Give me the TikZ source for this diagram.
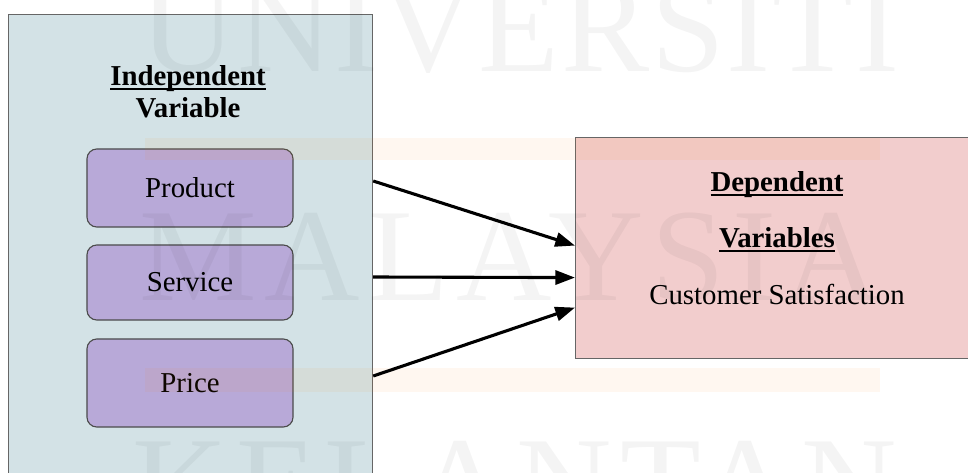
\documentclass[tikz,border=0pt]{standalone}
\usepackage{fontspec}
\setmainfont{Liberation Serif}
\usetikzlibrary{arrows.meta,calc}
\newcommand\thickul[1]{\setbox0\hbox{#1}\rlap{\rule[-3.2pt]{\wd0}{1.5pt}}\box0}
\definecolor{lblue}{HTML}{D3E2E6}
\definecolor{lpurple}{HTML}{B8A9D8}
\definecolor{lpink}{HTML}{F2CDCD}
\tikzset{
  x=0.025cm, y=-0.025cm,
  panel/.style={draw=black!60, line width=0.8pt, inner sep=0pt, anchor=north west},
  varbox/.style={draw=black!70, line width=0.8pt, fill=lpurple, rounded corners=7pt,
     minimum width=5.15cm, inner sep=0pt, font=\fontsize{20.5}{24}\selectfont},
  label/.style={font=\fontsize{20.5}{22.8}\selectfont, align=center, inner sep=0pt},
  wmark/.style={font=\fontsize{94}{94}\selectfont\addfontfeature{LetterSpace=6}, text=black, text opacity=0.045, anchor=base, inner sep=0pt},
  band/.style={fill=orange, fill opacity=0.06, draw=none},
  arr/.style={line width=2.2pt, -{Triangle[length=14pt,width=10pt]}}
}
\begin{document}
\begin{tikzpicture}
\useasboundingbox (0,0) rectangle (968,473);
\clip (0,0) rectangle (968,473);
\fill[white] (0,0) rectangle (968,473);
% panels
\node[panel, fill=lblue, minimum width=9.1cm, minimum height=11.75cm] (lbox) at (8,14) {};
\node[panel, fill=lpink, minimum width=10.5cm, minimum height=5.525cm] (dep) at (575,137) {};
% variable boxes
\node[varbox, minimum height=1.95cm] (product) at (190,188) {Product};
\node[varbox, minimum height=1.875cm] (service) at (190,282.5) {Service};
\node[varbox, minimum height=2.2cm] (price) at (190,383) {Price};
% watermark
\fill[band] (145,138) rectangle (880,160);
\fill[band] (145,368) rectangle (880,392);
\node[wmark, font=\fontsize{94}{94}\selectfont\addfontfeature{LetterSpace=1.5}] (wm1) at (520,72) {UNIVERSITI};
\node[wmark] (wm2) at (510,300) {MALAYSIA};
\node[wmark] (wm3) at (515,528) {KELANTAN};
% titles
\node[label, font=\fontsize{20.5}{22.8}\selectfont\bfseries] (indep) at (188,92) {\thickul{Independent}\\Variable};
\node[label, font=\fontsize{20.5}{40}\selectfont] (deptext) at (777,238)
   {\textbf{\thickul{Dependent}}\\ \textbf{\thickul{Variables}}\\ Customer Satisfaction};
% arrows
\draw[arr] ($(product -| lbox.east)+(0,-7)$) -- ($(dep.west)+(0,-2.5)$);
\draw[arr] ($(service -| lbox.east)+(0,-5.5)$) -- ($(dep.west)+(0,29.5)$);
\draw[arr] ($(price -| lbox.east)+(0,-7)$) -- ($(dep.west)+(0,59.5)$);
\end{tikzpicture}
\end{document}
